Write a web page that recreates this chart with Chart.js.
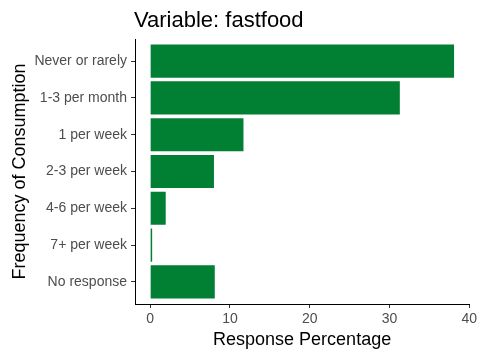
<!DOCTYPE html>
<html>
<head>
<meta charset="utf-8">
<script src="https://cdn.jsdelivr.net/npm/chart.js@4"></script>
<style>
  html, body { margin: 0; padding: 0; background: #fff; }
  #wrap { width: 480px; height: 360px; }
</style>
</head>
<body>
<div id="wrap"><canvas id="chart-1"></canvas></div>
<script>
// data
const categories = ["Never or rarely", "1-3 per month", "1 per week", "2-3 per week",
                    "4-6 per week", "7+ per week", "No response"];
const percents = [38.1, 31.3, 11.7, 8.0, 1.95, 0.25, 8.1];
const xTicks = [0, 10, 20, 30, 40];

const titleText = "Variable: fastfood";
const fontFam = '"Liberation Sans", Arial, sans-serif';

// plot title, left aligned with the panel like ggplot does
const titlePlugin = {
  id: "leftTitle",
  afterDraw(chart) {
    const c = chart.ctx;
    c.save();
    c.font = "22px " + fontFam;
    c.fillStyle = "#000";
    c.textBaseline = "alphabetic";
    c.textAlign = "left";
    c.fillText(titleText, chart.chartArea.left - 1, 27);
    c.restore();
  }
};

const ctx1 = document.getElementById("chart-1").getContext("2d");
const myChart1 = new Chart(ctx1, {
  type: "bar",
  data: {
    datasets: [{
      data: percents.map((v, i) => ({ x: v, y: i })),
      backgroundColor: "#017F33",
      borderWidth: 0,
      barPercentage: 0.9,
      categoryPercentage: 1
    }]
  },
  options: {
    indexAxis: "y",
    responsive: true,
    maintainAspectRatio: false,
    animation: false,
    layout: { padding: { top: 39, right: 10, left: 0, bottom: 0 } },
    plugins: {
      legend: { display: false },
      tooltip: { enabled: false }
    },
    scales: {
      x: {
        type: "linear",
        min: -1.9,
        max: 40,
        afterBuildTicks: (s) => { s.ticks = xTicks.map(v => ({ value: v })); },
        afterFit: (s) => { s.height = 56; },
        grid: { drawOnChartArea: false, drawTicks: true, tickLength: 4, tickColor: "#333" },
        border: { display: true, color: "#000", width: 1 },
        ticks: { color: "#4D4D4D", padding: 3, font: { family: fontFam, size: 14 } },
        title: {
          display: true,
          text: "Response Percentage",
          color: "#000",
          font: { family: fontFam, size: 18 },
          padding: { top: 0, bottom: 9 }
        }
      },
      y: {
        type: "linear",
        reverse: true,
        offset: false,
        min: -0.6,
        max: 6.6,
        afterBuildTicks: (s) => { s.ticks = categories.map((c, i) => ({ value: i })); },
        afterFit: (s) => { s.width = 135; },
        grid: { offset: false, drawOnChartArea: false, drawTicks: true, tickLength: 4, tickColor: "#333" },
        border: { display: true, color: "#000", width: 1 },
        ticks: {
          color: "#4D4D4D",
          padding: 4,
          font: { family: fontFam, size: 14 },
          callback: (v) => categories[v]
        },
        title: {
          display: true,
          text: "Frequency of Consumption",
          color: "#000",
          font: { family: fontFam, size: 18 },
          padding: { top: 9, bottom: 0 }
        }
      }
    }
  },
  plugins: [titlePlugin]
});
</script>
</body>
</html>
